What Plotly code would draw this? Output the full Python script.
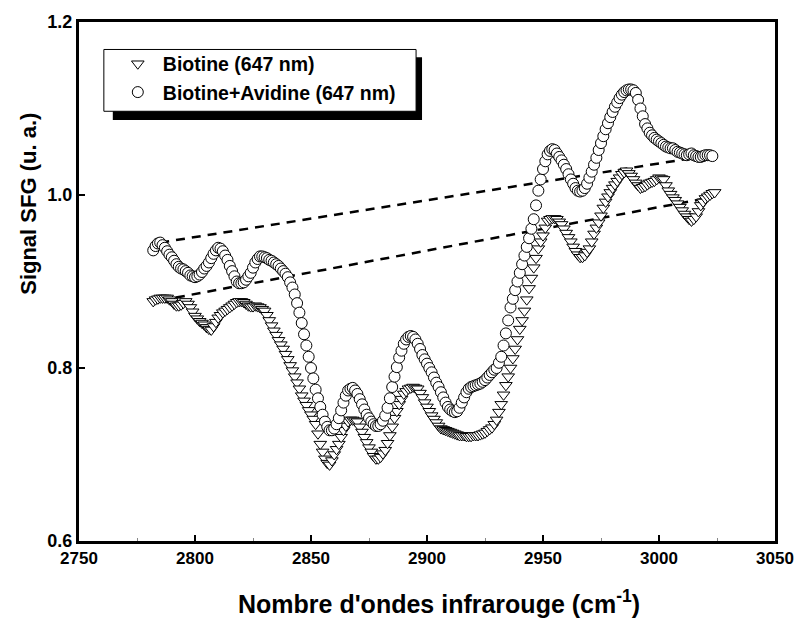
import plotly.graph_objects as go

# wavenumber grids (cm-1)
x_biotine = list(range(2782, 3025))
x_avidine = list(range(2782, 3024))

biotine = [
    0.877, 0.879, 0.880, 0.881, 0.881, 0.881, 0.881, 0.879, 0.877, 0.874,
    0.872, 0.872, 0.873, 0.875, 0.877, 0.874, 0.870, 0.865, 0.860, 0.857,
    0.854, 0.852, 0.850, 0.847, 0.845, 0.844, 0.848, 0.853, 0.858, 0.861,
    0.864, 0.866, 0.868, 0.870, 0.872, 0.874, 0.876, 0.877, 0.877, 0.876,
    0.874, 0.872, 0.871, 0.871, 0.872, 0.871, 0.870, 0.868, 0.866, 0.861,
    0.855, 0.849, 0.843, 0.838, 0.832, 0.827, 0.822, 0.816, 0.810, 0.803,
    0.797, 0.790, 0.783, 0.776, 0.768, 0.762, 0.757, 0.751, 0.746, 0.741,
    0.735, 0.724, 0.712, 0.703, 0.695, 0.690, 0.688, 0.693, 0.700, 0.706,
    0.712, 0.720, 0.728, 0.733, 0.738, 0.740, 0.740, 0.739, 0.738, 0.732,
    0.726, 0.720, 0.714, 0.708, 0.703, 0.698, 0.695, 0.695, 0.697, 0.701,
    0.705, 0.713, 0.722, 0.732, 0.742, 0.750, 0.758, 0.764, 0.770, 0.773,
    0.776, 0.777, 0.778, 0.777, 0.776, 0.771, 0.766, 0.760, 0.755, 0.750,
    0.745, 0.741, 0.737, 0.733, 0.730, 0.729, 0.728, 0.727, 0.726, 0.725,
    0.724, 0.723, 0.722, 0.722, 0.722, 0.721, 0.721, 0.721, 0.722, 0.722,
    0.722, 0.723, 0.724, 0.725, 0.727, 0.729, 0.731, 0.735, 0.740, 0.749,
    0.758, 0.769, 0.780, 0.790, 0.800, 0.811, 0.822, 0.833, 0.845, 0.855,
    0.866, 0.879, 0.892, 0.904, 0.916, 0.927, 0.938, 0.946, 0.953, 0.962,
    0.970, 0.972, 0.973, 0.973, 0.972, 0.969, 0.966, 0.961, 0.956, 0.951,
    0.946, 0.940, 0.935, 0.931, 0.928, 0.928, 0.930, 0.934, 0.938, 0.946,
    0.955, 0.962, 0.968, 0.976, 0.985, 0.992, 0.998, 1.003, 1.008, 1.012,
    1.016, 1.020, 1.024, 1.026, 1.028, 1.025, 1.022, 1.018, 1.014, 1.011,
    1.008, 1.009, 1.010, 1.012, 1.014, 1.015, 1.016, 1.018, 1.020, 1.019,
    1.018, 1.011, 1.005, 1.001, 0.997, 0.994, 0.990, 0.986, 0.982, 0.978,
    0.975, 0.972, 0.970, 0.972, 0.975, 0.981, 0.988, 0.992, 0.996, 0.998,
    1.000, 1.002, 1.003,
]

biotine_avidine = [
    0.936, 0.941, 0.944, 0.945, 0.942, 0.939, 0.935, 0.931, 0.928, 0.924,
    0.920, 0.917, 0.915, 0.914, 0.912, 0.910, 0.907, 0.906, 0.905, 0.906,
    0.908, 0.911, 0.915, 0.918, 0.922, 0.927, 0.932, 0.936, 0.939, 0.938,
    0.935, 0.930, 0.925, 0.918, 0.912, 0.906, 0.900, 0.898, 0.898, 0.899,
    0.902, 0.906, 0.910, 0.916, 0.922, 0.926, 0.929, 0.929, 0.928, 0.927,
    0.925, 0.924, 0.922, 0.920, 0.918, 0.915, 0.912, 0.909, 0.905, 0.899,
    0.893, 0.885, 0.875, 0.864, 0.852, 0.839, 0.826, 0.813, 0.800, 0.788,
    0.775, 0.765, 0.755, 0.746, 0.738, 0.732, 0.728, 0.728, 0.730, 0.735,
    0.742, 0.751, 0.760, 0.768, 0.774, 0.776, 0.777, 0.774, 0.770, 0.764,
    0.758, 0.752, 0.746, 0.742, 0.738, 0.735, 0.733, 0.733, 0.735, 0.739,
    0.745, 0.754, 0.765, 0.778, 0.790, 0.801, 0.812, 0.820, 0.828, 0.833,
    0.836, 0.837, 0.836, 0.833, 0.828, 0.822, 0.815, 0.810, 0.805, 0.800,
    0.795, 0.789, 0.783, 0.778, 0.772, 0.766, 0.760, 0.755, 0.752, 0.750,
    0.749, 0.750, 0.754, 0.760, 0.766, 0.772, 0.776, 0.778, 0.779, 0.780,
    0.781, 0.782, 0.784, 0.786, 0.789, 0.792, 0.795, 0.798, 0.800, 0.806,
    0.813, 0.826, 0.840, 0.855, 0.870, 0.880, 0.890, 0.900, 0.910, 0.920,
    0.930, 0.940, 0.950, 0.961, 0.972, 0.988, 1.005, 1.018, 1.030, 1.039,
    1.047, 1.051, 1.053, 1.052, 1.048, 1.044, 1.040, 1.035, 1.030, 1.024,
    1.018, 1.013, 1.008, 1.005, 1.004, 1.005, 1.008, 1.013, 1.020, 1.027,
    1.035, 1.043, 1.052, 1.060, 1.068, 1.076, 1.083, 1.090, 1.096, 1.102,
    1.107, 1.112, 1.116, 1.119, 1.121, 1.122, 1.122, 1.121, 1.118, 1.110,
    1.100, 1.091, 1.082, 1.077, 1.072, 1.069, 1.066, 1.064, 1.062, 1.060,
    1.058, 1.056, 1.055, 1.054, 1.054, 1.052, 1.050, 1.049, 1.048, 1.047,
    1.046, 1.047, 1.048, 1.046, 1.045, 1.044, 1.044, 1.045, 1.046, 1.046,
    1.046, 1.045,
]

# dashed baselines (endpoints)
upper_dash_x = [2785, 3020]
upper_dash_y = [0.945, 1.045]
lower_dash_x = [2785, 3020]
lower_dash_y = [0.878, 0.996]

x_ticks = [2750, 2800, 2850, 2900, 2950, 3000, 3050]
y_ticks = [0.6, 0.8, 1.0, 1.2]

FONT = "Arial, Liberation Sans, Helvetica, sans-serif"

fig = go.Figure()

fig.add_trace(go.Scatter(x=upper_dash_x, y=upper_dash_y, mode="lines",
                         line=dict(color="black", width=2.5, dash="9px,7px"),
                         showlegend=False, hoverinfo="skip"))
fig.add_trace(go.Scatter(x=lower_dash_x, y=lower_dash_y, mode="lines",
                         line=dict(color="black", width=2.5, dash="9px,7px"),
                         showlegend=False, hoverinfo="skip"))

fig.add_trace(go.Scatter(
    x=x_biotine, y=biotine, mode="markers", name="Biotine (647 nm)",
    legendgroup="a",
    marker=dict(symbol="triangle-down", size=11, color="white",
                line=dict(color="black", width=1))))
fig.add_trace(go.Scatter(
    x=x_avidine, y=biotine_avidine, mode="markers", name="Biotine+Avidine (647 nm)",
    legendgroup="b",
    marker=dict(symbol="circle", size=11, color="white",
                line=dict(color="black", width=1))))

# page pixel -> paper coords (plot area spans x 79..779, y 12..541)
def px_x(p):
    return (p - 79) / 700.0

def px_y(p):
    return (541 - p) / 529.0

fig.add_shape(type="rect", xref="paper", yref="paper",
              x0=px_x(113), x1=px_x(424), y0=px_y(112), y1=px_y(48),
              fillcolor="black", line=dict(width=0), layer="above")
fig.add_shape(type="rect", xref="paper", yref="paper",
              x0=px_x(104), x1=px_x(418), y0=px_y(103), y1=px_y(40),
              fillcolor="white", line=dict(color="black", width=1), layer="above")

fig.add_annotation(text="Signal SFG (u. a.)", xref="paper", yref="paper",
                   x=px_x(28), y=px_y(197), textangle=-90, showarrow=False,
                   xanchor="center", yanchor="middle",
                   font=dict(family=FONT, size=22, weight="bold"))
fig.add_annotation(text="Nombre d'ondes infrarouge (cm<sup>-1</sup>)",
                   xref="paper", yref="paper",
                   x=px_x(441), y=px_y(603), showarrow=False,
                   xanchor="center", yanchor="middle",
                   font=dict(family=FONT, size=25, weight="bold"))

fig.update_layout(
    width=806, height=620,
    margin=dict(l=79, r=27, t=12, b=79),
    paper_bgcolor="white", plot_bgcolor="white",
    font=dict(family=FONT, color="black"),
    showlegend=True,
    legend=dict(x=px_x(113), y=px_y(35), xanchor="left", yanchor="top",
                bgcolor="rgba(0,0,0,0)", borderwidth=0,
                font=dict(family=FONT, size=19.5, weight="bold"),
                traceorder="grouped", tracegroupgap=0, itemwidth=40),
    xaxis=dict(
        range=[2750, 3050], tickvals=x_ticks, ticktext=[str(v) for v in x_ticks],
        showline=True, linecolor="black", linewidth=3, mirror=True,
        ticks="inside", ticklen=6, tickwidth=2, tickcolor="black",
        minor=dict(ticks="inside", ticklen=3, tickwidth=1, dtick=25, tickcolor="#888"),
        showgrid=False, zeroline=False, ticklabeloverflow="allow",
        tickfont=dict(family=FONT, size=17, weight="bold"),
    ),
    yaxis=dict(
        range=[0.6, 1.2], tickvals=y_ticks, ticktext=["%.1f" % v for v in y_ticks],
        showline=True, linecolor="black", linewidth=3, mirror=True,
        ticks="inside", ticklen=6, tickwidth=2, tickcolor="black",
        showgrid=False, zeroline=False, ticklabeloverflow="allow",
        tickfont=dict(family=FONT, size=18, weight="bold"),
    ),
)

fig.write_html("out.html", config={"displayModeBar": False},
               post_script="document.body.style.margin='0';document.body.style.overflow='hidden';")
